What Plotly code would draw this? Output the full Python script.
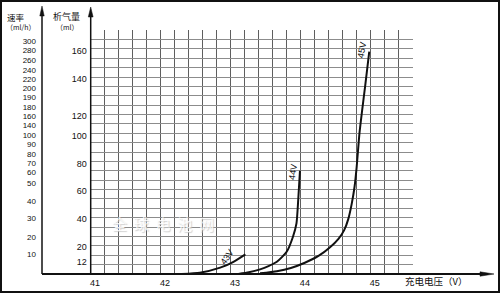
import plotly.graph_objects as go

W, H = 500, 295

# ---------------- data ----------------
v43 = [42.24, 42.50, 42.79, 42.98, 43.15]
ml43 = [0.0, 0.9, 4.5, 8.7, 14.0]

v44 = [43.05, 43.20, 43.36, 43.48, 43.60, 43.74, 43.83, 43.88, 43.905, 43.93]
ml44 = [0.0, 1.2, 3.3, 5.6, 8.7, 15.8, 26.5, 36.0, 52.6, 73.4]

v45 = [43.36, 43.60, 43.80, 44.00, 44.20, 44.36, 44.48, 44.56, 44.62,
       44.67, 44.71, 44.74, 44.78, 44.82, 44.86, 44.92]
ml45 = [0.5, 2.0, 4.3, 8.0, 13.0, 19.0, 25.0, 31.0, 39.0,
        50.0, 62.0, 76.0, 100.0, 117.0, 133.0, 158.0]

curve_labels = ["43V", "44V", "45V"]

x_ticks = [41, 42, 43, 44, 45]
ml_labels = ["160", "140", "120", "100", "80", "60", "40", "20", "12"]
ml_label_pos = [158.4, 138.5, 112.5, 98.1, 78.1, 59.0, 39.1, 19.2, 8.5]
rate_labels = ["300", "280", "260", "240", "220", "200", "190", "180", "160", "140",
               "100", "90", "80", "70", "60", "50", "40", "30", "20", "10"]
rate_label_pos = [165.1, 158.8, 152.0, 144.9, 138.5, 132.1, 125.7, 118.6, 112.2, 105.8,
                  98.7, 92.4, 85.2, 78.9, 72.5, 64.6, 51.9, 39.8, 26.3, 14.2]

# ---------------- layout helpers ----------------
def px(x):
    return x / W


def py(y):
    return (H - y) / H


X_RANGE = [40.94, 45.545]
Y_RANGE = [0, 173.4]
GRID_DY = 20 / 3

FONT = "Liberation Sans, Arial, sans-serif"
CJK = "Noto Sans CJK SC, sans-serif"

fig = go.Figure()

line_style = dict(color="#111111", width=2, shape="spline", smoothing=0.6)
for vx, vy in [(v43, ml43), (v44, ml44), (v45, ml45)]:
    fig.add_trace(go.Scatter(x=vx, y=vy, mode="lines", line=line_style,
                             hoverinfo="skip", showlegend=False))

# dummy traces so the overlay axes are created
fig.add_trace(go.Scatter(x=[None], y=[None], xaxis="x2", yaxis="y2",
                         showlegend=False, hoverinfo="skip"))
fig.add_trace(go.Scatter(x=[None], y=[None], xaxis="x", yaxis="y3",
                         showlegend=False, hoverinfo="skip"))

tickfont = dict(family=FONT, size=9, color="#111111")
ratefont = dict(family=FONT, size=8, color="#111111")

fig.update_layout(
    width=W, height=H,
    margin=dict(l=0, r=0, t=0, b=0),
    paper_bgcolor="white", plot_bgcolor="white",
    showlegend=False,
    xaxis=dict(domain=[px(90.7), px(413)], range=X_RANGE, tickmode="array",
               tickvals=x_ticks, ticktext=[str(t) for t in x_ticks],
               showgrid=False, zeroline=False, showline=False, ticks="",
               tickfont=tickfont, anchor="y", automargin=False,
               ticklabelstandoff=2),
    xaxis2=dict(overlaying="x", range=X_RANGE, tick0=40.94, dtick=0.2,
                showgrid=True, gridcolor="#5e5e5e", gridwidth=1,
                showticklabels=False, zeroline=False, showline=False,
                ticks="", anchor="y2", automargin=False),
    yaxis=dict(domain=[py(274), py(30)], range=Y_RANGE, tickmode="array",
               tickvals=ml_label_pos, ticktext=ml_labels, showgrid=False,
               zeroline=False, showline=False, ticks="", tickfont=tickfont,
               anchor="x", automargin=False, ticklabelstandoff=3),
    yaxis2=dict(overlaying="y", range=Y_RANGE, tick0=0, dtick=GRID_DY,
                showgrid=True, gridcolor="#8c8c8c", gridwidth=1,
                showticklabels=False, zeroline=False, showline=False,
                ticks="", anchor="x2", automargin=False),
    yaxis3=dict(overlaying="y", anchor="free", position=px(42), side="left",
                range=Y_RANGE, tickmode="array", tickvals=rate_label_pos,
                ticktext=rate_labels, showgrid=False, zeroline=False,
                showline=False, ticks="", tickfont=ratefont,
                automargin=False, ticklabelstandoff=6),
)

shapes = []
ax_line = dict(color="#111111", width=1.5)
# inner y axis, outer y axis, x axis
shapes.append(dict(type="line", xref="paper", yref="paper", x0=px(90.7), x1=px(90.7),
                   y0=py(274), y1=py(14), line=ax_line))
shapes.append(dict(type="line", xref="paper", yref="paper", x0=px(42), x1=px(42),
                   y0=py(274), y1=py(13), line=ax_line))
shapes.append(dict(type="line", xref="paper", yref="paper", x0=px(42), x1=px(482),
                   y0=py(274), y1=py(274), line=dict(color="#111111", width=2)))


# arrow heads
def tri(p1, p2, p3):
    return "M {} {} L {} {} L {} {} Z".format(px(p1[0]), py(p1[1]), px(p2[0]), py(p2[1]),
                                              px(p3[0]), py(p3[1]))


for path in [tri((90.7, 7), (88.3, 17), (93.1, 17)),
             tri((42, 6), (39.8, 16), (44.2, 16)),
             tri((494, 274), (480, 271.8), (480, 276.2))]:
    shapes.append(dict(type="path", xref="paper", yref="paper", path=path,
                       fillcolor="#111111", line=dict(color="#111111", width=0.5)))
# frame
shapes.append(dict(type="rect", xref="paper", yref="paper", x0=px(1), x1=px(499),
                   y0=py(292), y1=py(1), line=dict(color="#111111", width=2)))
fig.update_layout(shapes=shapes)

ann = []


def txt(x, y, s, size, font=CJK, xanchor="center"):
    ann.append(dict(xref="paper", yref="paper", x=px(x), y=py(y), text=s,
                    showarrow=False, xanchor=xanchor, yanchor="middle",
                    font=dict(family=font, size=size, color="#111111")))


txt(16, 16.5, "速率", 8.5)
txt(20, 26.5, "（ml/h）", 7)
txt(66, 16.5, "析气量", 9)
txt(67, 26.5, "（ml）", 7)
txt(436, 281, "充电电压（V）", 9.5)

# curve labels in data coordinates
label_pos = [(42.887, 12.1, -55), (43.83, 72.5, -82), (44.816, 159.1, -80)]
for lab, (lx, ly, rot) in zip(curve_labels, label_pos):
    ann.append(dict(xref="x", yref="y", x=lx, y=ly, text=lab, showarrow=False,
                    textangle=rot, font=dict(family=FONT, size=9, color="#111111")))

# faint watermark
ann.append(dict(xref="paper", yref="paper", x=px(110), y=py(236), text="全  球  电  池  网",
                showarrow=False, font=dict(family=CJK, size=15, color="rgba(255,255,255,0.85)",
                                           shadow="1px 1px 1px #c8c8c8")))
fig.update_layout(annotations=ann)

fig.write_html("out.html")
